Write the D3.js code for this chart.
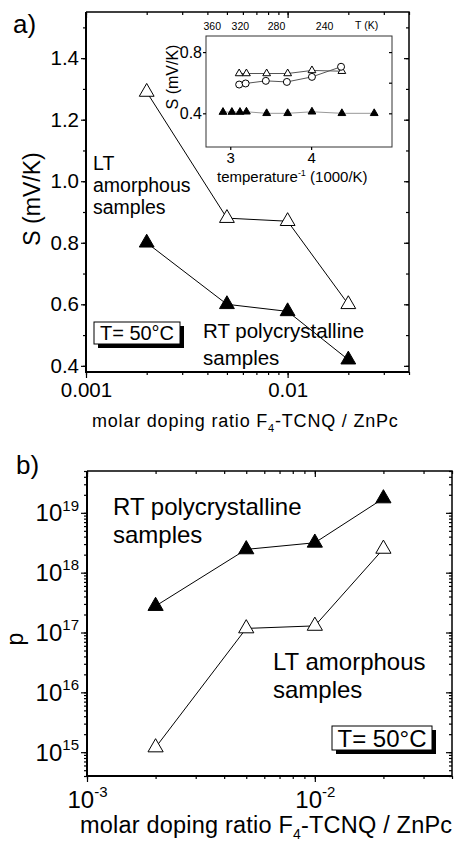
<!DOCTYPE html>
<html>
<head>
<meta charset="utf-8">
<script src="https://cdn.jsdelivr.net/npm/d3@7"></script>
<style>
  body { margin: 0; background: #fff; }
  svg { font-family: "Liberation Sans", Arial, sans-serif; }
</style>
</head>
<body>
<svg id="chart" width="458" height="842"></svg>
<script>
// panel a) Seebeck coefficient vs doping ratio
let ratioA = [0.002, 0.005, 0.01, 0.02]
let seebeckLT = [1.29, 0.88, 0.87, 0.60]
let seebeckRT = [0.80, 0.60, 0.577, 0.42]
let yTicksA = [0.4, 0.6, 0.8, 1.0, 1.2, 1.4]
let xTicksA = [0.001, 0.01]

// inset: S vs 1000/T
let invT_LT = [3.11, 3.20, 3.45, 3.71, 4.01, 4.38]
let inS_LT = [0.66, 0.66, 0.66, 0.66, 0.68, 0.675]
let invT_circ = [3.11, 3.19, 3.44, 3.70, 4.01, 4.37]
let inS_circ = [0.588, 0.595, 0.612, 0.605, 0.638, 0.704]
let invT_RT = [2.91, 3.02, 3.12, 3.20, 3.45, 3.71, 4.01, 4.38, 4.78]
let inS_RT = [0.408, 0.408, 0.408, 0.41, 0.40, 0.40, 0.41, 0.40, 0.40]
let insetTempLabels = [360, 320, 280, 240]

// panel b) carrier density vs doping ratio
let ratioB = [0.002, 0.005, 0.01, 0.02]
let pRT = [2.77e17, 2.45e18, 3.16e18, 1.74e19]
let pLT = [1.2e15, 1.17e17, 1.29e17, 2.5e18]
let yTicksB = [1e15, 1e16, 1e17, 1e18, 1e19]
let xTicksB = [1e-3, 1e-2]

let svg = d3.select('#chart')
let tri = d3.symbol().type(d3.symbolTriangle)

function minorLog(lo, hi) {
    let out = []
    for (let e = Math.floor(Math.log10(lo)); e <= Math.ceil(Math.log10(hi)); e++) {
        for (let m = 1; m < 10; m++) {
            let v = m * Math.pow(10, e)
            if (v >= lo * 0.999 && v <= hi * 1.001) out.push(v)
        }
    }
    return out
}

function cleanAxis(sel) {
    sel.select('.domain').remove()
    sel.selectAll('line').attr('stroke', '#000').attr('stroke-width', 1.2)
}

function drawSeries(g, x, y, xs, ys, filled, size, lineColor) {
    let pts = xs.map((v, i) => [x(v), y(ys[i])])
    g.append('path')
        .attr('d', d3.line()(pts))
        .attr('fill', 'none')
        .attr('stroke', lineColor)
        .attr('stroke-width', 1)
    g.selectAll(null).data(pts).join('path')
        .attr('transform', d => 'translate(' + d[0] + ',' + d[1] + ')')
        .attr('d', tri.size(size)())
        .attr('fill', filled ? '#000' : '#fff')
        .attr('stroke', '#000')
        .attr('stroke-width', 1)
}

function tempBox(g, x0, y0, w, h, fs) {
    g.append('rect').attr('x', x0 + 4).attr('y', y0 + 4).attr('width', w).attr('height', h).attr('fill', '#000')
    g.append('rect').attr('x', x0).attr('y', y0).attr('width', w).attr('height', h)
        .attr('fill', '#fff').attr('stroke', '#000').attr('stroke-width', 1)
    g.append('text').attr('x', x0 + w / 2).attr('y', y0 + h / 2 + fs * 0.36)
        .attr('text-anchor', 'middle').attr('font-size', fs).text('T= 50°C')
}

function powTen(sel, fs, sfs) {
    sel.each(function(d) {
        let t = d3.select(this)
        t.append('tspan').text('10')
        t.append('tspan').attr('font-size', sfs).attr('dy', -fs * 0.45).text(Math.round(Math.log10(d)))
    })
}

// ---------- panel a ----------
{
    let L = 86, T = 12, R = 409, B = 372
    let x = d3.scaleLog().domain([0.001, 0.04]).range([L, R])
    let y = d3.scaleLinear().domain([0.38, 1.55]).range([B, T])
    let g = svg.append('g')

    let yMinor = d3.range(0.4, 1.51, 0.1)
    g.append('g').attr('transform', 'translate(' + L + ',0)')
        .call(d3.axisLeft(y).tickValues(yMinor).tickSize(3).tickFormat(''))
        .call(cleanAxis)
    g.append('g').attr('transform', 'translate(' + L + ',0)')
        .call(d3.axisLeft(y).tickValues(yTicksA).tickSize(5).tickPadding(2).tickFormat(d3.format('.1f')))
        .call(cleanAxis)
        .selectAll('text').attr('font-size', 20.5).attr('fill', '#000')
    g.append('g').attr('transform', 'translate(' + R + ',0)')
        .call(d3.axisRight(y).tickValues(yMinor).tickSize(-3).tickFormat(''))
        .call(cleanAxis)
    g.append('g').attr('transform', 'translate(' + R + ',0)')
        .call(d3.axisRight(y).tickValues(yTicksA).tickSize(-5).tickFormat(''))
        .call(cleanAxis)

    let xm = minorLog(0.001, 0.04)
    g.append('g').attr('transform', 'translate(0,' + B + ')')
        .call(d3.axisBottom(x).tickValues(xm).tickSize(3).tickFormat(''))
        .call(cleanAxis)
    g.append('g').attr('transform', 'translate(0,' + B + ')')
        .call(d3.axisBottom(x).tickValues(xTicksA).tickSize(6).tickPadding(4.5).tickFormat(d => d === 0.001 ? '0.001' : '0.01'))
        .call(cleanAxis)
        .selectAll('text').attr('font-size', 20.5).attr('fill', '#000')
    g.append('g').attr('transform', 'translate(0,' + T + ')')
        .call(d3.axisTop(x).tickValues(xm).tickSize(-3).tickFormat(''))
        .call(cleanAxis)
    g.append('g').attr('transform', 'translate(0,' + T + ')')
        .call(d3.axisTop(x).tickValues(xTicksA).tickSize(-6).tickFormat(''))
        .call(cleanAxis)

    // frame
    g.append('path').attr('d', 'M' + L + ',' + T + 'H' + R + 'V' + B)
        .attr('fill', 'none').attr('stroke', '#000').attr('stroke-width', 1.5)
    g.append('path').attr('d', 'M' + L + ',' + T + 'V' + B + 'H' + R)
        .attr('fill', 'none').attr('stroke', '#000').attr('stroke-width', 2)

    drawSeries(g, x, y, ratioA, seebeckLT, false, 95, '#000')
    drawSeries(g, x, y, ratioA, seebeckRT, true, 95, '#000')

    g.append('text').attr('x', 13).attr('y', 33).attr('font-size', 26).text('a)')
    g.append('text').attr('transform', 'translate(40,199) rotate(-90)')
        .attr('text-anchor', 'middle').attr('font-size', 23).text('S (mV/K)')
    let xt = g.append('text').attr('x', 92).attr('y', 427).attr('font-size', 18).attr('letter-spacing', 0.8)
    xt.append('tspan').text('molar doping ratio F')
    xt.append('tspan').attr('font-size', 11).attr('dy', 5).text('4')
    xt.append('tspan').attr('dy', -5).text('-TCNQ / ZnPc')

    let lt = g.append('text').attr('font-size', 19.5)
    lt.append('tspan').attr('x', 93).attr('y', 170).text('LT')
    lt.append('tspan').attr('x', 93).attr('y', 192).text('amorphous')
    lt.append('tspan').attr('x', 93).attr('y', 214).text('samples')
    let rt = g.append('text').attr('font-size', 20.5)
    rt.append('tspan').attr('x', 203).attr('y', 338).text('RT polycrystalline')
    rt.append('tspan').attr('x', 203).attr('y', 365).text('samples')

    tempBox(g, 94, 322, 86, 22, 20)

    // ----- inset -----
    let iL = 206, iT = 36, iR = 392, iB = 147
    let ix = d3.scaleLinear().domain([2.7, 5.0]).range([iL, iR])
    let iy = d3.scaleLinear().domain([0.18, 0.905]).range([iB, iT])
    let ig = g.append('g')
    ig.append('rect').attr('x', iL).attr('y', iT).attr('width', iR - iL).attr('height', iB - iT)
        .attr('fill', '#fff').attr('stroke', '#333').attr('stroke-width', 1)
    ig.append('g').attr('transform', 'translate(' + iL + ',0)')
        .call(d3.axisLeft(iy).tickValues([0.4, 0.8]).tickSize(3).tickPadding(1).tickFormat(d3.format('.1f')))
        .call(cleanAxis)
        .selectAll('text').attr('font-size', 16).attr('fill', '#000')
    ig.append('g').attr('transform', 'translate(' + iR + ',0)')
        .call(d3.axisRight(iy).tickValues([0.4, 0.6, 0.8]).tickSize(-3).tickFormat(''))
        .call(cleanAxis)
    ig.append('g').attr('transform', 'translate(0,' + iB + ')')
        .call(d3.axisBottom(ix).tickValues([3, 4]).tickSize(3).tickPadding(2.5).tickFormat(d3.format('d')))
        .call(cleanAxis)
        .selectAll('text').attr('font-size', 15).attr('fill', '#000')
    ig.selectAll('.tl').data(insetTempLabels).join('text')
        .attr('x', d => ix(1000 / d)).attr('y', 30)
        .attr('text-anchor', 'middle').attr('font-size', 10.5).text(d => d)
    ig.append('text').attr('x', 355).attr('y', 29).attr('font-size', 10.5).text('T (K)')
    ig.append('text').attr('transform', 'translate(178,77) rotate(-90)')
        .attr('text-anchor', 'middle').attr('font-size', 16).text('S (mV/K)')
    let it = ig.append('text').attr('x', 217).attr('y', 182).attr('font-size', 15)
    it.append('tspan').text('temperature')
    it.append('tspan').attr('font-size', 9).attr('dy', -6).text('-1')
    it.append('tspan').attr('dy', 6).text(' (1000/K)')

    drawSeries(ig, ix, iy, invT_RT, inS_RT, true, 26, '#999')
    drawSeries(ig, ix, iy, invT_LT, inS_LT, false, 26, '#555')
    let cpts = invT_circ.map((v, i) => [ix(v), iy(inS_circ[i])])
    ig.append('path').attr('d', d3.line()(cpts)).attr('fill', 'none').attr('stroke', '#555').attr('stroke-width', 1)
    ig.selectAll('.c').data(cpts).join('circle')
        .attr('cx', d => d[0]).attr('cy', d => d[1]).attr('r', 3.5)
        .attr('fill', '#fff').attr('stroke', '#000').attr('stroke-width', 1)
}

// ---------- panel b ----------
{
    let L = 87, T = 471, R = 452, B = 776
    let x = d3.scaleLog().domain([0.001, 0.04]).range([L, R])
    let y = d3.scaleLog().domain([4e14, 5e19]).range([B, T])
    let g = svg.append('g')

    let ym = minorLog(4e14, 5e19)
    g.append('g').attr('transform', 'translate(' + L + ',0)')
        .call(d3.axisLeft(y).tickValues(ym).tickSize(3).tickFormat(''))
        .call(cleanAxis)
    let yl = g.append('g').attr('transform', 'translate(' + L + ',0)')
        .call(d3.axisLeft(y).tickValues(yTicksB).tickSize(6).tickFormat(''))
        .call(cleanAxis)
    yl.selectAll('.tick').append('text')
        .attr('x', -8).attr('y', 8).attr('text-anchor', 'end').attr('font-size', 24).attr('fill', '#000')
        .call(powTen, 24, 15)
    g.append('g').attr('transform', 'translate(' + R + ',0)')
        .call(d3.axisRight(y).tickValues(ym).tickSize(-3).tickFormat(''))
        .call(cleanAxis)
    g.append('g').attr('transform', 'translate(' + R + ',0)')
        .call(d3.axisRight(y).tickValues(yTicksB).tickSize(-6).tickFormat(''))
        .call(cleanAxis)

    let xm = minorLog(0.001, 0.04)
    g.append('g').attr('transform', 'translate(0,' + B + ')')
        .call(d3.axisBottom(x).tickValues(xm).tickSize(3).tickFormat(''))
        .call(cleanAxis)
    let xl = g.append('g').attr('transform', 'translate(0,' + B + ')')
        .call(d3.axisBottom(x).tickValues(xTicksB).tickSize(6).tickFormat(''))
        .call(cleanAxis)
    xl.selectAll('.tick').append('text')
        .attr('y', 32).attr('text-anchor', 'middle').attr('font-size', 24).attr('fill', '#000')
        .call(powTen, 24, 15)
    g.append('g').attr('transform', 'translate(0,' + T + ')')
        .call(d3.axisTop(x).tickValues(xm).tickSize(-3).tickFormat(''))
        .call(cleanAxis)
    g.append('g').attr('transform', 'translate(0,' + T + ')')
        .call(d3.axisTop(x).tickValues(xTicksB).tickSize(-6).tickFormat(''))
        .call(cleanAxis)

    g.append('path').attr('d', 'M' + L + ',' + T + 'H' + R + 'V' + B)
        .attr('fill', 'none').attr('stroke', '#000').attr('stroke-width', 1.5)
    g.append('path').attr('d', 'M' + L + ',' + T + 'V' + B + 'H' + R)
        .attr('fill', 'none').attr('stroke', '#000').attr('stroke-width', 2)

    drawSeries(g, x, y, ratioB, pRT, true, 100, '#000')
    drawSeries(g, x, y, ratioB, pLT, false, 100, '#000')

    g.append('text').attr('x', 16).attr('y', 474).attr('font-size', 26).text('b)')
    g.append('text').attr('transform', 'translate(23,639) rotate(-90)')
        .attr('text-anchor', 'middle').attr('font-size', 23).text('p')
    let xt = g.append('text').attr('x', 80).attr('y', 833).attr('font-size', 23.5).attr('letter-spacing', 0.2)
    xt.append('tspan').text('molar doping ratio F')
    xt.append('tspan').attr('font-size', 14).attr('dy', 6).text('4')
    xt.append('tspan').attr('dy', -6).text('-TCNQ / ZnPc')

    let rt = g.append('text').attr('font-size', 24)
    rt.append('tspan').attr('x', 113).attr('y', 515).text('RT polycrystalline')
    rt.append('tspan').attr('x', 113).attr('y', 543).text('samples')
    let lt = g.append('text').attr('font-size', 24)
    lt.append('tspan').attr('x', 273).attr('y', 670).text('LT amorphous')
    lt.append('tspan').attr('x', 273).attr('y', 698).text('samples')

    tempBox(g, 332, 726, 100, 24, 24)
}
</script>
</body>
</html>
